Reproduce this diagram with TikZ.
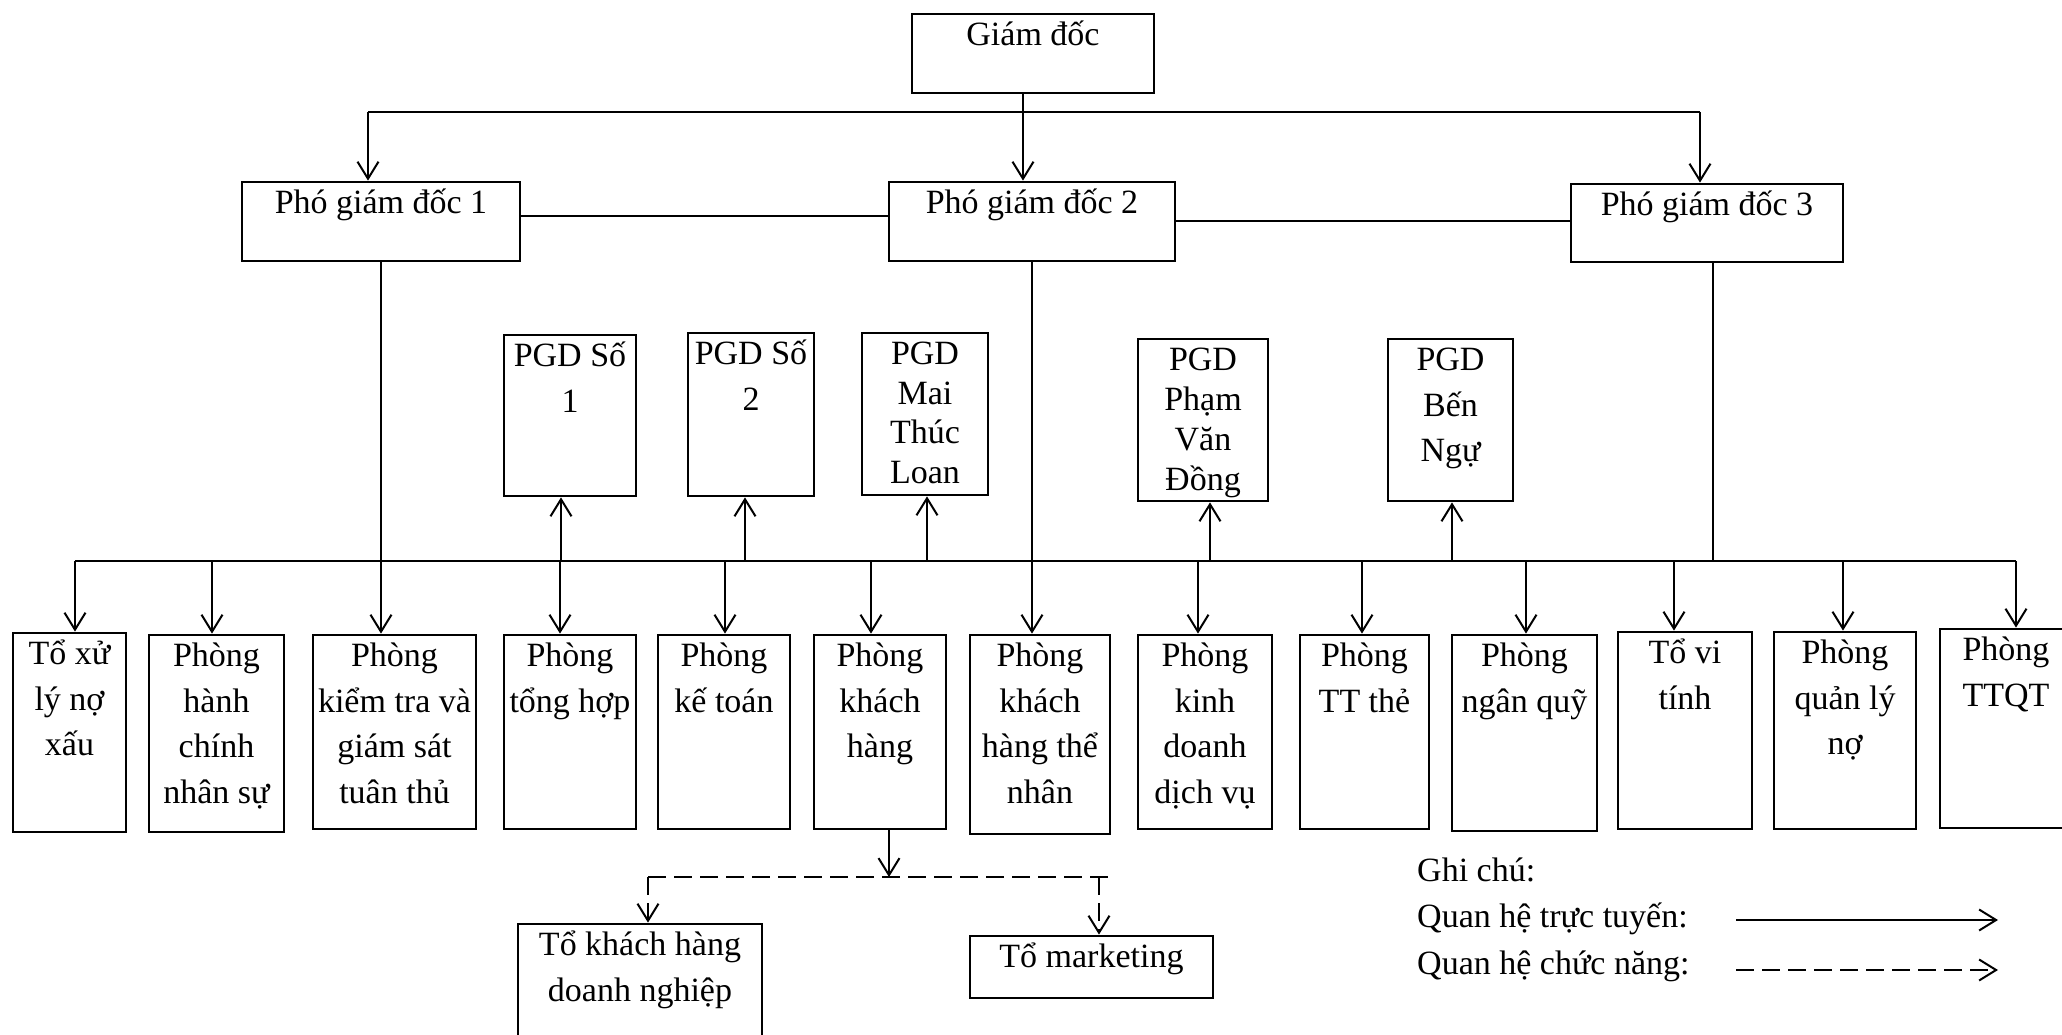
\documentclass[tikz,border=0pt]{standalone}
\usepackage{fontspec}
\setmainfont{Liberation Serif}
\usetikzlibrary{arrows.meta,fit}

% framed unit: name, x1, y1, x2, y2, text (first baseline 33pt below the top edge)
\newcommand\orgbox[6]{%
  \node[box, fit={(#2,#3) (#4,#5)}] (#1) {};
  \node[lbl] (#1-t) at ([yshift=-33pt]#1.north) {\parbox[t]{300pt}{\centering #6}};}

\begin{document}
\begin{tikzpicture}[x=1pt,y=-1pt,
  box/.style={draw, line width=2.8pt, inner sep=0pt},
  lbl/.style={anchor=base, inner sep=0pt, font=\fontsize{34}{45.5}\selectfont},
  legend/.style={anchor=base west, inner sep=0pt, font=\fontsize{34}{45.5}\selectfont},
  conn/.style={line width=2pt},
  dconn/.style={conn, dash pattern=on 18pt off 8pt},
  arr/.style={conn, -{Straight Barb[length=17pt,width=21pt]}},
  darr/.style={arr, dash pattern=on 18pt off 8pt}]

\useasboundingbox (0,0) rectangle (2062,1035);
\clip (0,0) rectangle (2062,1035);
\fill[white] (0,0) rectangle (2062,1035);

% management
\orgbox{gd}{912}{14}{1154}{93}{Giám đốc}
\orgbox{p1}{242}{182}{520}{261}{Phó giám đốc 1}
\orgbox{p2}{889}{182}{1175}{261}{Phó giám đốc 2}
\orgbox{p3}{1571}{184}{1843}{262}{Phó giám đốc 3}

% transaction offices
\orgbox{pgd1}{504}{335}{636}{496}{PGD Số\\1}
\orgbox{pgd2}{688}{333}{814}{496}{PGD Số\\2}
\orgbox{mtl}{862}{333}{988}{495}{\fontsize{34}{39.5}\selectfont PGD\\Mai\\Thúc\\Loan}
\orgbox{pvd}{1138}{339}{1268}{501}{\fontsize{34}{40}\selectfont PGD\\Phạm\\Văn\\Đồng}
\orgbox{bn}{1388}{339}{1513}{501}{PGD\\Bến\\Ngự}

% departments
\orgbox{b1}{13}{633}{126}{832}{Tổ xử\\lý nợ\\xấu}
\orgbox{b2}{149}{635}{284}{832}{Phòng\\hành\\chính\\nhân sự}
\orgbox{b3}{313}{635}{476}{829}{Phòng\\kiểm tra và\\giám sát\\tuân thủ}
\orgbox{b4}{504}{635}{636}{829}{Phòng\\tổng hợp}
\orgbox{b5}{658}{635}{790}{829}{Phòng\\kế toán}
\orgbox{b6}{814}{635}{946}{829}{Phòng\\khách\\hàng}
\orgbox{b7}{970}{635}{1110}{834}{Phòng\\khách\\hàng thể\\nhân}
\orgbox{b8}{1138}{635}{1272}{829}{Phòng\\kinh\\doanh\\dịch vụ}
\orgbox{b9}{1300}{635}{1429}{829}{Phòng\\TT thẻ}
\orgbox{b10}{1452}{635}{1597}{831}{Phòng\\ngân quỹ}
\orgbox{b11}{1618}{632}{1752}{829}{Tổ vi\\tính}
\orgbox{b12}{1774}{632}{1916}{829}{Phòng\\quản lý\\nợ}
\orgbox{b13}{1940}{629}{2072}{828}{Phòng\\TTQT}

% teams under the customer department
\orgbox{kdn}{518}{924}{762}{1060}{Tổ khách hàng\\doanh nghiệp}
\orgbox{mk}{970}{936}{1213}{998}{Tổ marketing}

% director to deputies
\coordinate (gdo) at ([xshift=-10pt]gd.south);
\draw[arr] (gdo) -- (gdo |- p2.north);
\coordinate (tl) at (368,112);
\coordinate (tr) at (1700,112);
\draw[conn] (tl) -- (tr);
\draw[arr] (tl) -- (tl |- p1.north);
\draw[arr] (tr) -- (tr |- p3.north);
\draw[conn] (p1.east |- 0,216) -- (p2.west |- 0,216);
\draw[conn] (p2.east |- 0,221) -- (p3.west |- 0,221);

% deputies to the departments
\coordinate (busL) at (75,561);
\coordinate (busR) at (2016,561);
\draw[conn] (busL) -- (busR);
\draw[arr] (p1.south) -- (p1.south |- b3.north);
\draw[arr] (p2.south) -- (p2.south |- b7.north);
\coordinate (p3o) at ([xshift=6pt]p3.south);
\draw[conn] (p3o) -- (p3o |- busL);
\foreach \x/\n in {75/b1,212/b2,560/b4,725/b5,871/b6,1198/b8,1362/b9,1526/b10,1674/b11,1843/b12,2016/b13}
  \draw[arr] (\x,561) -- (\x,0 |- \n.north);
\foreach \x/\n in {561/pgd1,745/pgd2,927/mtl,1210/pvd,1452/bn}
  \draw[arr] (\x,561) -- (\x,0 |- \n.south);

% functional links
\coordinate (fj) at (889,877);
\draw[arr] (fj |- b6.south) -- (fj);
\coordinate (fl) at (648,877);
\coordinate (fr) at (1099,877);
\draw[dconn] (fl) -- (1110,877);
\draw[darr] (fl) -- (fl |- kdn.north);
\draw[darr] (fr) -- (fr |- mk.north);

% legend
\node[legend] (lg) at (1417,881) {Ghi chú:};
\node[legend] (lg1) at (1417,927) {Quan hệ trực tuyến:};
\node[legend] (lg2) at (1417,974) {Quan hệ chức năng:};
\coordinate (s1) at (1736,920);
\coordinate (s2) at (1736,970);
\draw[arr] (s1) -- ++(262,0);
\draw[darr] (s2) -- ++(262,0);
\end{tikzpicture}
\end{document}
